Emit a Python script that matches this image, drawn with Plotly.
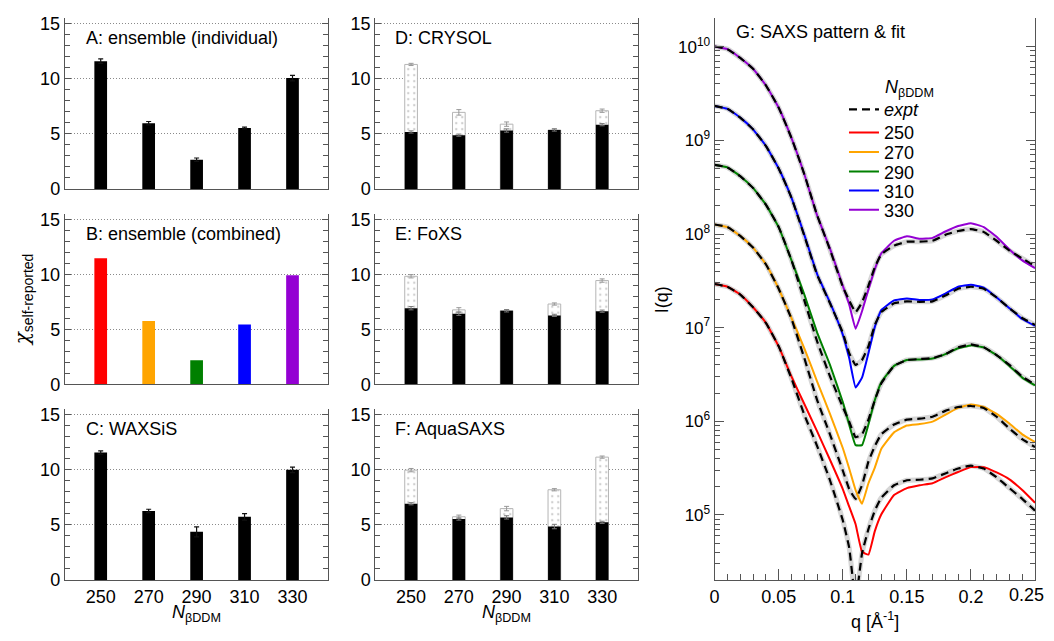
import numpy as np
import plotly.graph_objects as go

FONT = "Liberation Sans, Arial, sans-serif"
FIG_W, FIG_H, OFF = 1038, 625, 8   # page body keeps an 8px margin

# ---------------- bar-chart data ----------------
categories = [250, 270, 290, 310, 330]
tick_labels = ["250", "270", "290", "310", "330"]

A_vals = [11.6, 5.97, 2.66, 5.53, 10.06]
A_err = [0.2, 0.15, 0.15, 0.08, 0.25]

B_vals = [11.45, 5.77, 2.19, 5.44, 9.91]
B_colors = ["#ff0000", "#ffa500", "#008000", "#0000ff", "#9400d3"]

C_vals = [11.56, 6.27, 4.37, 5.73, 10.0]
C_err = [0.15, 0.15, 0.45, 0.3, 0.25]

D_black = [5.17, 4.88, 5.30, 5.35, 5.83]
D_black_err = [0.1, 0.1, 0.15, 0.1, 0.1]
D_dot = [11.3, 6.95, 5.88, 5.35, 7.1]
D_dot_err = [0.1, 0.25, 0.2, 0.1, 0.15]

E_black = [6.92, 6.42, 6.68, 6.27, 6.65]
E_black_err = [0.15, 0.15, 0.1, 0.1, 0.1]
E_dot = [9.82, 6.77, 6.7, 7.3, 9.43]
E_dot_err = [0.15, 0.2, 0.1, 0.1, 0.15]

F_black = [6.92, 5.53, 5.68, 4.85, 5.23]
F_black_err = [0.1, 0.1, 0.15, 0.2, 0.1]
F_dot = [9.97, 5.74, 6.48, 8.19, 11.15]
F_dot_err = [0.15, 0.15, 0.2, 0.1, 0.1]

# ---------------- SAXS data (log10 I) ----------------
q = [0, 0.01, 0.02, 0.03, 0.04, 0.05, 0.06, 0.07, 0.08, 0.09, 0.10, 0.105, 0.11,
     0.115, 0.12, 0.125, 0.13, 0.14, 0.15, 0.16, 0.17, 0.18, 0.19, 0.20, 0.21,
     0.22, 0.23, 0.24, 0.25]
q_ticks = [0, 0.05, 0.1, 0.15, 0.2, 0.25]
q_tick_labels = ["0", "0.05", "0.1", "0.15", "0.2", "0.25"]

logI_fit_330 = [10.002, 9.974, 9.880, 9.765, 9.588, 9.348, 9.024, 8.638, 8.199, 7.844, 7.448, 7.249, 6.988,
                7.176, 7.406, 7.625, 7.792, 7.928, 7.975, 7.949, 7.959, 8.027, 8.085, 8.116, 8.074,
                7.970, 7.834, 7.719, 7.636]
logI_exp_330 = [10.002, 9.974, 9.880, 9.765, 9.588, 9.348, 9.024, 8.638, 8.199, 7.834, 7.437, 7.291, 7.166,
                7.270, 7.448, 7.646, 7.782, 7.876, 7.918, 7.918, 7.928, 7.991, 8.032, 8.053, 8.022,
                7.928, 7.823, 7.740, 7.657]

logI_fit_310 = [9.368, 9.337, 9.243, 9.118, 8.941, 8.700, 8.387, 7.991, 7.573, 7.270, 6.926, 6.675, 6.362,
                6.467, 6.728, 7.009, 7.187, 7.291, 7.312, 7.296, 7.302, 7.364, 7.437, 7.458, 7.427,
                7.323, 7.208, 7.093, 7.020]
logI_exp_310 = [9.368, 9.337, 9.243, 9.118, 8.941, 8.700, 8.387, 7.980, 7.563, 7.260, 6.947, 6.728, 6.602,
                6.655, 6.801, 7.030, 7.166, 7.260, 7.281, 7.276, 7.281, 7.343, 7.416, 7.437, 7.416,
                7.323, 7.208, 7.103, 7.030]

logI_fit_290 = [8.739, 8.711, 8.617, 8.492, 8.314, 8.074, 7.719, 7.354, 6.947, 6.602, 6.206, 5.966, 5.746,
                5.746, 5.966, 6.226, 6.414, 6.592, 6.655, 6.660, 6.670, 6.717, 6.780, 6.811, 6.790,
                6.707, 6.592, 6.467, 6.383]
logI_exp_290 = [8.739, 8.711, 8.617, 8.492, 8.314, 8.074, 7.719, 7.291, 6.853, 6.481, 6.153, 5.997, 5.830,
                5.861, 6.018, 6.226, 6.404, 6.592, 6.655, 6.665, 6.675, 6.717, 6.790, 6.822, 6.790,
                6.707, 6.602, 6.477, 6.393]

logI_fit_270 = [8.102, 8.074, 7.980, 7.855, 7.677, 7.416, 7.103, 6.780, 6.425, 6.080, 5.715, 5.496, 5.266,
                5.120, 5.339, 5.506, 5.705, 5.882, 5.955, 5.971, 5.997, 6.070, 6.143, 6.180, 6.153,
                6.080, 5.976, 5.861, 5.778]
logI_exp_270 = [8.102, 8.074, 7.980, 7.855, 7.677, 7.416, 7.093, 6.675, 6.226, 5.861, 5.475, 5.277, 5.172,
                5.318, 5.569, 5.736, 5.861, 5.966, 6.018, 6.028, 6.049, 6.112, 6.153, 6.164, 6.143,
                6.049, 5.924, 5.809, 5.725]

logI_fit_250 = [7.466, 7.437, 7.354, 7.218, 7.051, 6.801, 6.477, 6.185, 5.892, 5.590, 5.277, 5.089, 4.901,
                4.608, 4.577, 4.828, 5.005, 5.214, 5.287, 5.318, 5.339, 5.402, 5.459, 5.511, 5.511,
                5.454, 5.381, 5.266, 5.130]
logI_exp_250 = [7.466, 7.437, 7.354, 7.218, 7.051, 6.801, 6.456, 6.070, 5.736, 5.371, 4.943, 4.650, 4.087,
                4.588, 4.849, 5.047, 5.183, 5.318, 5.371, 5.376, 5.391, 5.444, 5.496, 5.527, 5.496,
                5.402, 5.287, 5.172, 5.047]

series_names = ["250", "270", "290", "310", "330"]
series_colors = ["#ff0000", "#ffa500", "#008000", "#0000ff", "#9400d3"]
fits = [logI_fit_250, logI_fit_270, logI_fit_290, logI_fit_310, logI_fit_330]
exps = [logI_exp_250, logI_exp_270, logI_exp_290, logI_exp_310, logI_exp_330]

# ---------------- layout helpers (reference-page pixels -> paper) ----------------
def px_x(p):
    return (p - OFF) / FIG_W

def px_y(p):
    return 1 - (p - OFF) / FIG_H

AX = "#555555"
bar_x_dom = [px_x(60), px_x(325)]
bar_x_dom2 = [px_x(372), px_x(636)]
rows = [(14.3, 189), (214.3, 389), (414.3, 589)]

fig = go.Figure()
BW = 5.3

def add_single(idx, vals, colors, err=None):
    fig.add_trace(go.Bar(
        x=categories, y=vals, width=BW,
        marker=dict(color=colors, line=dict(width=0)),
        error_y=dict(type="data", array=err, color="#111111", thickness=1.2, width=2.5,
                     visible=err is not None),
        xaxis=f"x{idx}", yaxis=f"y{idx}", showlegend=False))

def add_pair(idx, dot, dot_err, black, black_err):
    fig.add_trace(go.Bar(
        x=categories, y=dot, width=BW,
        marker=dict(color="white", line=dict(color="#b5b5b5", width=1),
                    pattern=dict(shape=".", fgcolor="#a0a0a0", bgcolor="white",
                                 size=6, solidity=0.12)),
        error_y=dict(type="data", array=dot_err, color="#999999", thickness=1, width=2.5),
        xaxis=f"x{idx}", yaxis=f"y{idx}", showlegend=False))
    fig.add_trace(go.Bar(
        x=categories, y=black, width=BW,
        marker=dict(color="black", line=dict(width=0)),
        error_y=dict(type="data", array=black_err, color="#777777", thickness=1, width=2.5),
        xaxis=f"x{idx}", yaxis=f"y{idx}", showlegend=False))

add_single(1, A_vals, "black", A_err)
add_single(2, B_vals, B_colors, None)
add_single(3, C_vals, "black", C_err)
add_pair(4, D_dot, D_dot_err, D_black, D_black_err)
add_pair(5, E_dot, E_dot_err, E_black, E_black_err)
add_pair(6, F_dot, F_dot_err, F_black, F_black_err)

# one single-entry legend per row so the rows can sit as tight as in the reference
legend_rows = ["legend", "legend2", "legend3", "legend4", "legend5", "legend6"]
legend_centres = [108, 131.5, 151.5, 171.5, 191, 210.5]

SM = 0.35
for e in exps:
    fig.add_trace(go.Scatter(x=q, y=np.power(10.0, e), mode="lines",
                             line=dict(color="rgba(200,200,200,0.75)", width=5, shape="spline", smoothing=SM),
                             xaxis="x7", yaxis="y7", showlegend=False, hoverinfo="skip"))
for i, (name, col, f) in enumerate(zip(series_names, series_colors, fits)):
    fig.add_trace(go.Scatter(x=q, y=np.power(10.0, f), mode="lines", name=name,
                             line=dict(color=col, width=2, shape="spline", smoothing=SM),
                             xaxis="x7", yaxis="y7", legend=legend_rows[i + 1]))
for i, e in enumerate(exps):
    fig.add_trace(go.Scatter(x=q, y=np.power(10.0, e), mode="lines", name="<i>expt</i>",
                             line=dict(color="black", width=2.2, dash="8px,5px", shape="spline", smoothing=SM),
                             xaxis="x7", yaxis="y7", legend="legend", showlegend=(i == 0)))

layout = dict(
    width=FIG_W, height=FIG_H, autosize=False,
    margin=dict(l=0, r=0, t=0, b=0),
    paper_bgcolor="white", plot_bgcolor="white",
    font=dict(family=FONT, size=18, color="black"),
    barmode="overlay",
)
for lname, yc in zip(legend_rows, legend_centres):
    layout[lname] = dict(x=px_x(843), y=px_y(yc), xanchor="left", yanchor="middle",
                         font=dict(family=FONT, size=18, color="black"),
                         bgcolor="rgba(0,0,0,0)", borderwidth=0, itemwidth=30)

minor_bar = [1, 2, 3, 4, 6, 7, 8, 9, 11, 12, 13, 14]
for idx in range(1, 7):
    col = 0 if idx <= 3 else 1
    r = (idx - 1) % 3
    top, bot = rows[r]
    show_x = (r == 2)
    layout[f"xaxis{'' if idx == 1 else idx}"] = dict(
        domain=bar_x_dom if col == 0 else bar_x_dom2,
        anchor=f"y{idx}", range=[235, 345],
        tickvals=categories, ticktext=tick_labels, showticklabels=show_x,
        ticks="", showline=True, linecolor=AX, linewidth=1,
        showgrid=False, zeroline=False, fixedrange=True,
        tickfont=dict(size=18, family=FONT))
    layout[f"yaxis{'' if idx == 1 else idx}"] = dict(
        domain=[px_y(bot), px_y(top)], anchor=f"x{idx}", range=[0, 15.5],
        tickvals=[0, 5, 10, 15], ticks="inside", ticklen=6, tickcolor=AX,
        showline=True, mirror="ticks", linecolor=AX, linewidth=1,
        showgrid=True, gridcolor="#8a8a8a", griddash="1px,2px", gridwidth=1,
        zeroline=False, fixedrange=True,
        minor=dict(tickvals=minor_bar, ticks="inside", ticklen=5, tickcolor=AX, showgrid=False),
        tickfont=dict(size=18, family=FONT))

minor_log = [k * 10.0 ** n for n in range(4, 11) for k in range(2, 10)]
# the last label (0.25) sits at the page edge; it is drawn as an annotation so it stays inside
layout["xaxis7"] = dict(
    domain=[px_x(713), px_x(1035)], anchor="y7", range=[0, 0.25],
    tickvals=q_ticks, ticktext=q_tick_labels[:-1] + [""],
    ticks="inside", ticklen=11, tickcolor=AX, showline=True, linecolor=AX, linewidth=1,
    showgrid=False, zeroline=False, fixedrange=True,
    minor=dict(dtick=0.01, tick0=0, ticks="inside", ticklen=6, tickcolor=AX, showgrid=False),
    tickfont=dict(size=18, family=FONT))
layout["yaxis7"] = dict(
    domain=[px_y(589), px_y(14)], anchor="x7", type="log", range=[4.306, 10.308],
    tickvals=[1e5, 1e6, 1e7, 1e8, 1e9, 1e10],
    ticktext=["10<sup>5</sup>", "10<sup>6</sup>", "10<sup>7</sup>", "10<sup>8</sup>",
              "10<sup>9</sup>", "10<sup>10</sup>"],
    ticks="inside", ticklen=9, tickcolor=AX, showline=True, mirror="ticks",
    linecolor=AX, linewidth=1, showgrid=False, zeroline=False, fixedrange=True,
    minor=dict(tickvals=minor_log, ticks="inside", ticklen=5, tickcolor=AX, showgrid=False),
    tickfont=dict(size=17, family=FONT))

annotations = []
def ann(text, x, y, size=18, xanchor="left", angle=0):
    annotations.append(dict(text=text, x=px_x(x), y=px_y(y), xref="paper", yref="paper",
                            xanchor=xanchor, yanchor="middle", showarrow=False, textangle=angle,
                            font=dict(family=FONT, size=size, color="black")))

ann("A: ensemble (individual)", 79, 35)
ann("B: ensemble (combined)", 79, 235)
ann("C: WAXSiS", 79, 435)
ann("D: CRYSOL", 390, 35)
ann("E: FoXS", 390, 235)
ann("F: AquaSAXS", 390, 435)
ann("G: SAXS pattern &amp; fit", 732, 28)
ann("<span style='font-family:DejaVu Serif;font-style:italic'>χ</span><sub>self-reported</sub>",
    18, 302, size=20, xanchor="center", angle=-90)
ann("<i>N</i><sub>βDDM</sub>", 192, 623, size=18, xanchor="center")
ann("<i>N</i><sub>βDDM</sub>", 504, 623, size=18, xanchor="center")
ann("q [Å<sup>-1</sup>]", 874, 630, size=18, xanchor="center")
ann("I(q)", 661, 302, size=18, xanchor="center", angle=-90)
ann("<i>N</i><sub>βDDM</sub>", 882, 86, size=18)
ann(q_tick_labels[-1], 1046, 604, size=18, xanchor="right")
layout["annotations"] = annotations

fig.update_layout(layout)
fig.write_html("out.html")
